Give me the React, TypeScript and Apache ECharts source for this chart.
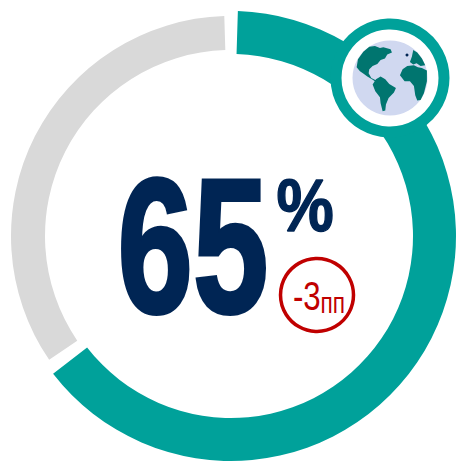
import React, { useEffect, useRef } from "react";
import * as echarts from "echarts";

const categories = ["Доля", "Остаток"];
const shareValues = [65, 35];
const mainLabel = "65";
const percentLabel = "%";
const deltaNumber = "-3";
const deltaUnit = "пп";

const TEAL = "#00A19A";
const GRAY = "#D9D9D9";
const NAVY = "#002554";
const RED = "#C00000";
const LAND = "#00756F";
const FONT = '"Liberation Sans"';

const landPaths = [
  // North America
  "M80 172 L84 148 L100 125 L118 110 L135 108 L150 114 L160 112 L182 118 L186 128 L172 134 L165 146 L152 150 L142 162 L128 168 L118 178 L116 190 L124 204 L136 210 L148 214 L138 216 L126 208 L112 200 L102 192 L90 184 Z",
  // South America
  "M128 224 L138 208 L152 200 L166 208 L178 222 L198 234 L192 248 L176 264 L168 284 L166 302 L158 304 L152 280 L150 262 L136 244 Z",
  // Africa
  "M210 196 L218 178 L232 168 L252 166 L264 172 L276 174 L291 182 L291 214 L282 250 L272 270 L262 272 L256 256 L252 228 L240 214 L224 214 Z",
  // Europe / Asia
  "M240 156 L246 140 L250 120 L262 128 L276 146 L286 166 L272 168 L260 160 L250 164 Z",
];

landPaths.forEach((d, i) => {
  echarts.graphic.registerShape(`land${i}`, echarts.graphic.extendPath(d as any, {}) as any);
});

export default function App() {
  const ref = useRef<HTMLDivElement>(null);
  useEffect(() => {
    const chart = echarts.init(ref.current!, null, { renderer: "svg" });
    const data = (color: string, first: boolean) =>
      categories.map((name, i) => ({
        name,
        value: shareValues[i],
        itemStyle: { color: (i === 0) === first ? color : "transparent" },
      }));
    const base = {
      type: "pie",
      center: [231, 236],
      startAngle: 90,
      clockwise: true,
      padAngle: 3.5,
      label: { show: false },
      labelLine: { show: false },
      silent: true,
      emphasis: { disabled: true },
    };
    const land = landPaths.map((_, i) => ({
      type: `land${i}`,
      x: 330,
      y: 10,
      scaleX: 1 / 3,
      scaleY: 1 / 3,
      z: 12,
      style: { fill: LAND },
    }));
    chart.setOption({
      animation: false,
      backgroundColor: "#fff",
      series: [
        { ...base, radius: [186, 220], data: data(GRAY, false) },
        { ...base, radius: [182, 225], data: data(TEAL, true) },
      ],
      graphic: [
        { type: "circle", z: 10, shape: { cx: 390, cy: 78, r: 54 }, style: { fill: "#fff", stroke: TEAL, lineWidth: 11 } },
        { type: "circle", z: 11, shape: { cx: 390, cy: 78, r: 37.5 }, style: { fill: "#D0D8F0" } },
        ...land,
        { type: "circle", z: 13, shape: { cx: 407, cy: 55, r: 1.5 }, style: { fill: NAVY } },
        {
          type: "text", z: 10, x: 193, y: 246, scaleX: 0.71,
          style: { text: mainLabel, font: `bold 191px ${FONT}`, fill: NAVY, stroke: NAVY, lineWidth: 4, textAlign: "center", textVerticalAlign: "middle" },
        },
        {
          type: "text", z: 10, x: 305, y: 205, scaleX: 0.87,
          style: { text: percentLabel, font: `bold 74px ${FONT}`, fill: NAVY, stroke: NAVY, lineWidth: 1.5, textAlign: "center", textVerticalAlign: "middle" },
        },
        { type: "circle", z: 10, shape: { cx: 317, cy: 295, r: 36.5 }, style: { fill: "#fff", stroke: RED, lineWidth: 3.5 } },
        {
          type: "text", z: 11, x: 319, y: 297, scaleX: 0.78,
          style: {
            text: `{a|${deltaNumber}}{b|${deltaUnit}}`,
            textAlign: "center",
            textVerticalAlign: "middle",
            rich: {
              a: { font: `40px ${FONT}`, fill: RED, color: RED, verticalAlign: "bottom", lineHeight: 40 },
              b: { font: `29px ${FONT}`, fill: RED, color: RED, verticalAlign: "bottom", lineHeight: 40 },
            },
          },
        },
      ],
    });
    return () => chart.dispose();
  }, []);
  return <div ref={ref} style={{ position: "fixed", left: 0, top: 0, width: 457, height: 462 }} />;
}
